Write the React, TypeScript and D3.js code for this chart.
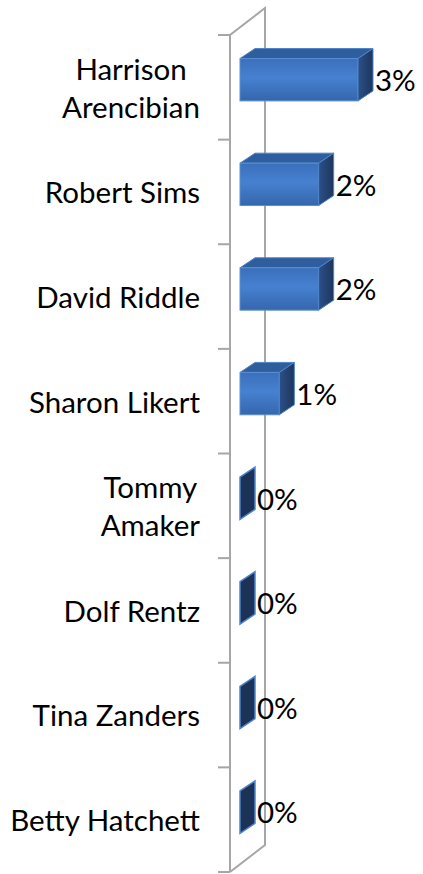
import React, { useRef, useEffect } from 'react';
import * as d3 from 'd3';

const categories = [
  'Harrison\nArencibian',
  'Robert Sims',
  'David Riddle',
  'Sharon Likert',
  'Tommy\nAmaker',
  'Dolf Rentz',
  'Tina Zanders',
  'Betty Hatchett',
];
const values = [0.03, 0.02, 0.02, 0.01, 0, 0, 0, 0];
const valueLabels = ['3%', '2%', '2%', '1%', '0%', '0%', '0%', '0%'];

const W = 423;
const H = 874;
const FONT = 'Lato, "Open Sans", sans-serif';
const FS = 29.5;

const App = () => {
  const svgRef = useRef<SVGSVGElement>(null);

  useEffect(() => {
    const svg = d3.select(svgRef.current);
    svg.selectAll('*').remove();

    const wallX = 230;
    const wallTop = 35;
    const wallBottom = 872;
    const depthX = 35;
    const depthY = -27;
    const barDX = 15;
    const barDY = -10;

    const x = d3.scaleLinear().domain([0, 0.03]).range([240, 358]);
    const y = d3.scaleBand().domain(categories).range([wallTop, wallBottom]).padding(0);
    const bw = y.bandwidth();

    const defs = svg.append('defs');
    const front = defs.append('linearGradient').attr('id', 'front').attr('x1', 0).attr('y1', 0).attr('x2', 0).attr('y2', 1);
    front.append('stop').attr('offset', '0%').attr('stop-color', '#3b6fbc');
    front.append('stop').attr('offset', '45%').attr('stop-color', '#4681d0');
    front.append('stop').attr('offset', '100%').attr('stop-color', '#3566ad');
    const side = defs.append('linearGradient').attr('id', 'side').attr('x1', 0).attr('y1', 0).attr('x2', 1).attr('y2', 0);
    side.append('stop').attr('offset', '0%').attr('stop-color', '#2b5089');
    side.append('stop').attr('offset', '100%').attr('stop-color', '#1d365c');

    // wall
    const wall = svg.append('g').attr('fill', 'none').attr('stroke', '#a6a6a6').attr('stroke-width', 2);
    wall.append('path').attr('d', `M${wallX},${wallBottom}V${wallTop}L${wallX + depthX},${wallTop + depthY}V${wallBottom + depthY}L${wallX},${wallBottom}`);

    // category ticks
    const ticks = d3.range(categories.length + 1).map((i) => wallTop + i * bw);
    wall.selectAll('line.tick').data(ticks).enter().append('line')
      .attr('x1', wallX - 12).attr('x2', wallX).attr('y1', (d) => d).attr('y2', (d) => d);

    // bars
    const bars = svg.append('g').selectAll('g').data(values).enter().append('g');
    bars.each(function (v, i) {
      const g = d3.select(this);
      const y0 = (y(categories[i]) as number) + bw * 0.225;
      const y1 = (y(categories[i]) as number) + bw * 0.63;
      const x0 = x(0);
      const x1 = x(v);
      if (v > 0) {
        g.append('path')
          .attr('d', `M${x0},${y0}L${x0 + barDX},${y0 + barDY}L${x1 + barDX},${y0 + barDY}L${x1},${y0}Z`)
          .attr('fill', '#2f5e9f').attr('stroke', '#4f84c8').attr('stroke-width', 1);
        g.append('rect')
          .attr('x', x0).attr('y', y0).attr('width', x1 - x0).attr('height', y1 - y0)
          .attr('fill', 'url(#front)').attr('stroke', '#5a8fd2').attr('stroke-width', 1);
      }
      g.append('path')
        .attr('d', `M${x1},${y0}L${x1 + barDX},${y0 + barDY}L${x1 + barDX},${y1 + barDY}L${x1},${y1}Z`)
        .attr('fill', v > 0 ? 'url(#side)' : '#1c3357').attr('stroke', '#4f84c8').attr('stroke-width', v > 0 ? 1 : 1.5);

      g.append('text')
        .attr('x', x1 + 17)
        .attr('y', (y0 + y1) / 2 + 1)
        .attr('dy', '0.35em')
        .attr('font-family', FONT)
        .attr('font-size', FS)
        .attr('fill', '#000')
        .text(valueLabels[i]);
    });

    // category labels
    const labels = svg.append('g').attr('font-family', FONT).attr('font-size', FS).attr('fill', '#000');
    categories.forEach((c, i) => {
      const lines = c.split('\n');
      const cy = (y(c) as number) + bw / 2 + 1;
      const t = labels.append('text').attr('text-anchor', 'middle');
      lines.forEach((ln, j) => {
        t.append('tspan').attr('y', cy + (j - (lines.length - 1) / 2) * 38).attr('dy', '0.35em').text(ln);
      });
      let maxW = 0;
      t.selectAll('tspan').each(function () {
        maxW = Math.max(maxW, (this as SVGTSpanElement).getComputedTextLength());
      });
      t.selectAll('tspan').attr('x', 200 - maxW / 2);
    });
  }, []);

  return (
    <svg
      ref={svgRef}
      width={W}
      height={H}
      style={{ position: 'absolute', left: 0, top: 0, background: '#fff' }}
    />
  );
};

export default App;
